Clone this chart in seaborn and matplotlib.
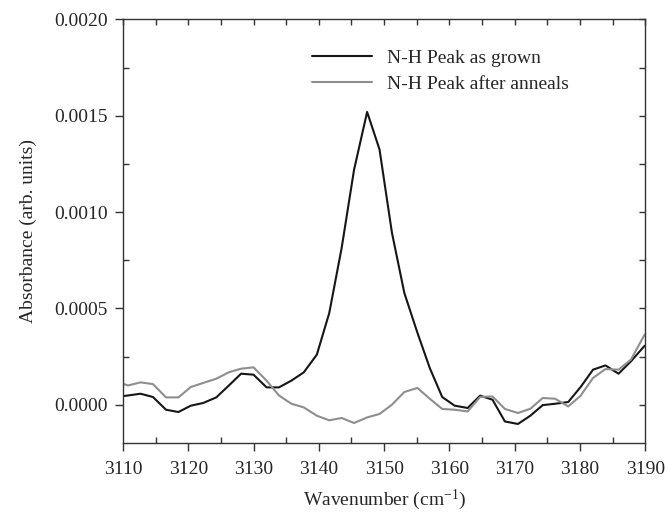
import numpy as np
import pandas as pd
import matplotlib
matplotlib.use("Agg")
import matplotlib.pyplot as plt
from matplotlib import lines as mlines
from matplotlib.ticker import MultipleLocator, FormatStrFormatter
import seaborn as sns

# wavenumber grid (cm^-1)
wavenumber = [3108.9, 3110.8, 3112.7, 3114.6, 3116.6, 3118.5, 3120.4, 3122.3,
              3124.3, 3126.2, 3128.1, 3130.0, 3132.0, 3133.9, 3135.8, 3137.7,
              3139.7, 3141.6, 3143.5, 3145.4, 3147.4, 3149.3, 3151.2, 3153.1,
              3155.1, 3157.0, 3158.9, 3160.8, 3162.8, 3164.7, 3166.6, 3168.5,
              3170.5, 3172.4, 3174.3, 3176.2, 3178.2, 3180.1, 3182.0, 3183.9,
              3185.9, 3187.8, 3189.9]

as_grown = [0.000040, 0.000048, 0.000057, 0.000040, -0.000026, -0.000038, -0.000005, 0.000009,
            0.000038, 0.000099, 0.000161, 0.000156, 0.000090, 0.000090, 0.000125, 0.000168,
            0.000260, 0.000476, 0.000814, 0.001220, 0.001520, 0.001325, 0.000893, 0.000580,
            0.000374, 0.000190, 0.000040, -0.000005, -0.000017, 0.000047, 0.000026, -0.000087,
            -0.000100, -0.000057, -0.000002, 0.000005, 0.000014, 0.000092, 0.000182, 0.000204,
            0.000161, 0.000225, 0.000306]

after_anneal = [0.000120, 0.000100, 0.000116, 0.000107, 0.000038, 0.000038, 0.000092, 0.000113,
                0.000135, 0.000168, 0.000187, 0.000194, 0.000125, 0.000048, 0.000005, -0.000014,
                -0.000057, -0.000081, -0.000069, -0.000095, -0.000066, -0.000048, 0.000000, 0.000066,
                0.000087, 0.000031, -0.000022, -0.000026, -0.000035, 0.000040, 0.000043, -0.000022,
                -0.000043, -0.000021, 0.000035, 0.000031, -0.000009, 0.000047, 0.000139, 0.000185,
                0.000182, 0.000234, 0.000364]

labels = ["N-H Peak as grown", "N-H Peak after anneals"]
colors = ["#161616", "#8e8e8e"]

sns.set_style("ticks")
plt.rcParams["font.family"] = ["Liberation Serif", "DejaVu Serif"]
plt.rcParams["mathtext.default"] = "regular"
plt.rcParams["font.size"] = 14

df = pd.DataFrame({"wavenumber": wavenumber,
                   labels[0]: as_grown,
                   labels[1]: after_anneal})

fig = plt.figure(figsize=(6.68, 5.13), dpi=100)
ax = fig.add_axes([0.184, 0.136, 0.782, 0.826])

for lab, col in zip(labels, colors):
    sns.lineplot(data=df, x="wavenumber", y=lab, color=col, lw=1.5,
                 label=lab, ax=ax)

ax.set_xlim(3110, 3190)
ax.set_ylim(-0.0002, 0.0020)
ax.xaxis.set_major_locator(MultipleLocator(10))
ax.xaxis.set_minor_locator(MultipleLocator(5))
ax.yaxis.set_major_locator(MultipleLocator(0.0005))
ax.yaxis.set_minor_locator(MultipleLocator(0.00025))
ax.yaxis.set_major_formatter(FormatStrFormatter("%.4f"))

tc = "#333333"
# majors point outward on the labelled sides, minors inward
ax.tick_params(axis="x", which="major", direction="out", length=5.5, width=1,
               labelsize=14, pad=7, color=tc, top=True)
ax.tick_params(axis="x", which="minor", direction="in", length=4, width=1,
               color=tc, top=True)
ax.tick_params(axis="y", which="major", direction="out", length=6, width=1,
               labelsize=14, pad=5, color=tc, right=True)
ax.tick_params(axis="y", which="minor", direction="in", length=4, width=1,
               color=tc, right=True)
# top and right ticks all point inward
for t in ax.xaxis.get_major_ticks():
    t.tick2line.set_marker(mlines.TICKDOWN)
    t.tick2line.set_markersize(4)
for t in ax.yaxis.get_major_ticks():
    t.tick2line.set_marker(mlines.TICKLEFT)
    t.tick2line.set_markersize(4)

for s in ax.spines.values():
    s.set_linewidth(1.0)
    s.set_color(tc)

ax.set_xlabel("Wavenumber (cm$^{-1}$)", fontsize=14, labelpad=7)
ax.set_ylabel("Absorbance (arb. units)", fontsize=14, labelpad=12)

ax.legend(loc="upper left", bbox_to_anchor=(0.362, 0.93), frameon=False,
          fontsize=14, handlelength=3.1, handletextpad=0.75,
          labelspacing=0.45, borderpad=0, borderaxespad=0)

fig.savefig("out.png", dpi=100)
